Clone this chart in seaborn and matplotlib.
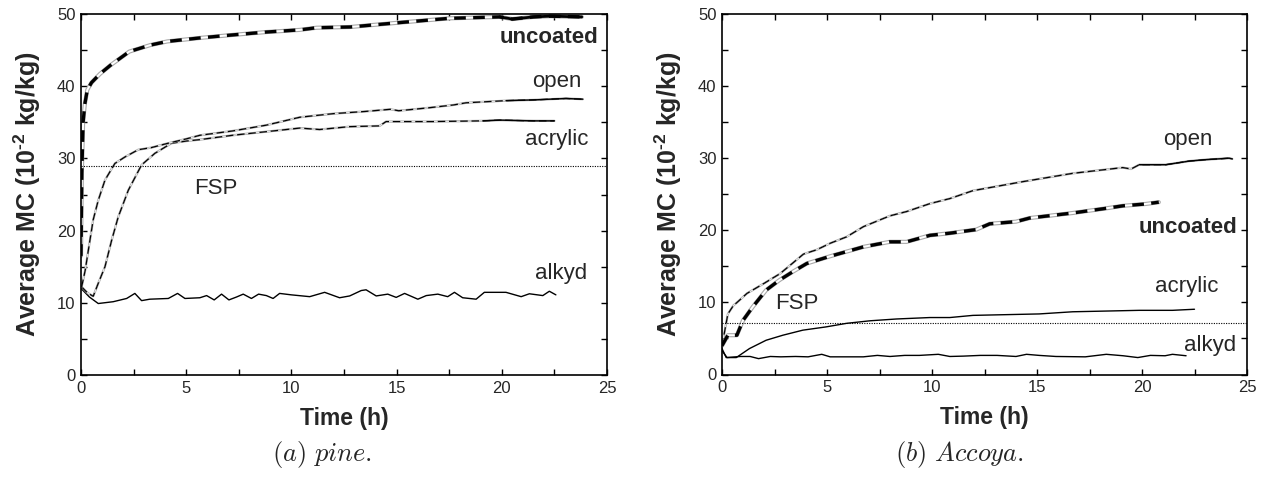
import numpy as np
import pandas as pd
import matplotlib
matplotlib.use("Agg")
import matplotlib.pyplot as plt
import seaborn as sns

# ---------------- data ----------------
# (a) pine
pine_unc_t = [0.0, 0.04, 0.1, 0.18, 0.3, 0.5, 0.9, 1.4, 2.3, 3.3, 4.1, 5.7, 7.2, 8.8, 10.4, 11.2, 12.8,
              15.1, 17.5, 19.9, 20.5, 21.5, 22.3, 23.8]
pine_unc_v = [16.5, 28, 35, 37.5, 39.5, 40.5, 41.7, 42.9, 44.8, 45.7, 46.2, 46.7, 47.1, 47.5, 47.8, 48.1, 48.2,
              48.8, 49.4, 49.6, 49.3, 49.6, 49.7, 49.6]

pine_open_t = [0.03, 0.2, 0.35, 0.58, 0.82, 1.14, 1.61, 2.09, 2.72, 3.35, 4.14, 5.0, 5.65, 7.2, 8.8, 10.4,
               12.0, 13.5, 14.7, 15.1, 16.5, 17.7, 18.3, 20.2, 21.5, 22.3, 23.05, 23.85]
pine_open_v = [12.2, 14.5, 17.3, 21.5, 24.2, 27.0, 29.3, 30.2, 31.2, 31.5, 32.1, 32.7, 33.2, 33.8, 34.6, 35.7,
               36.2, 36.5, 36.8, 36.6, 37.0, 37.4, 37.7, 38.0, 38.1, 38.2, 38.3, 38.2]

pine_acr_t = [0.03, 0.3, 0.58, 0.82, 1.14, 1.46, 1.77, 2.25, 2.88, 3.51, 4.3, 5.0, 5.65, 7.2, 8.8, 10.4,
              11.34, 12.77, 14.19, 14.5, 16.7, 19.1, 19.9, 21.5, 22.5]
pine_acr_v = [12.2, 11.4, 10.9, 12.7, 15.0, 18.7, 21.9, 25.6, 29.1, 30.7, 32.1, 32.4, 32.6, 33.2, 33.7, 34.2,
              34.0, 34.4, 34.5, 35.1, 35.1, 35.2, 35.3, 35.2, 35.2]

pine_alk_t = [0.0, 0.4, 0.82, 1.53, 2.17, 2.56, 2.88, 3.27, 4.15, 4.59, 4.94, 5.65, 5.97, 6.33, 6.68, 7.03,
              7.39, 7.71, 8.1, 8.44, 8.81, 9.13, 9.44, 10.0, 10.87, 11.58, 12.29, 12.77, 13.32, 13.55, 14.03,
              14.58, 14.98, 15.38, 16.01, 16.41, 16.96, 17.43, 17.75, 18.14, 18.78, 19.17, 20.2, 20.92, 21.31,
              21.95, 22.26, 22.57]
pine_alk_v = [12.0, 10.8, 9.9, 10.15, 10.6, 11.3, 10.3, 10.5, 10.6, 11.3, 10.6, 10.7, 11.0, 10.4, 11.2, 10.4,
              10.8, 11.2, 10.6, 11.2, 11.0, 10.6, 11.3, 11.1, 10.85, 11.45, 10.7, 10.95, 11.7, 11.8, 10.95,
              11.2, 10.75, 11.3, 10.5, 11.0, 11.2, 10.85, 11.45, 10.7, 10.5, 11.45, 11.45, 10.85, 11.25,
              11.0, 11.6, 11.1]

pine_fsp = 29.0

# (b) Accoya
acc_open_t = [0.0, 0.28, 0.55, 0.68, 1.19, 1.98, 2.77, 3.88, 4.51, 5.15, 5.94, 6.73, 7.99, 8.79, 9.9, 10.85,
              11.95, 14.33, 16.7, 19.08, 19.48, 19.87, 21.14, 22.25, 23.04, 24.15, 24.3]
acc_open_v = [4.0, 8.4, 9.6, 9.9, 11.25, 12.6, 14.0, 16.7, 17.3, 18.2, 19.1, 20.5, 22.0, 22.6, 23.7, 24.4,
              25.5, 26.75, 27.9, 28.7, 28.5, 29.1, 29.1, 29.6, 29.8, 30.0, 29.9]

acc_unc_t = [0.0, 0.28, 0.71, 1.0, 1.47, 2.1, 2.74, 3.37, 4.04, 5.15, 6.73, 7.99, 8.79, 9.9, 10.85, 12.11,
             12.75, 14.0, 14.65, 16.7, 18.3, 19.1, 20.17, 20.8]
acc_unc_v = [4.0, 5.45, 5.45, 7.5, 9.4, 11.7, 13.1, 14.25, 15.4, 16.4, 17.7, 18.4, 18.4, 19.3, 19.6, 20.1,
             20.9, 21.2, 21.7, 22.4, 23.05, 23.4, 23.65, 23.9]

acc_acr_t = [0.0, 0.2, 0.68, 1.31, 2.1, 2.9, 3.85, 4.95, 5.94, 7.05, 8.31, 9.9, 10.85, 11.95, 15.1, 16.7,
             18.3, 19.87, 21.45, 22.5]
acc_acr_v = [3.6, 2.35, 2.35, 3.6, 4.75, 5.45, 6.15, 6.6, 7.1, 7.45, 7.7, 7.9, 7.9, 8.2, 8.4, 8.7,
             8.8, 8.9, 8.9, 9.05]

acc_alk_t = [0.0, 0.24, 0.87, 1.34, 1.74, 2.3, 2.8, 3.5, 4.1, 4.75, 5.15, 6.0, 6.73, 7.4, 8.0, 8.7, 9.4,
             10.3, 10.85, 11.5, 12.3, 13.1, 14.0, 14.5, 15.1, 15.9, 17.3, 18.3, 19.1, 19.8, 20.4, 21.1,
             21.45, 22.1]
acc_alk_v = [3.3, 2.35, 2.5, 2.5, 2.2, 2.5, 2.45, 2.5, 2.45, 2.8, 2.45, 2.45, 2.45, 2.65, 2.5, 2.65, 2.65,
             2.8, 2.5, 2.55, 2.65, 2.65, 2.5, 2.8, 2.65, 2.5, 2.45, 2.8, 2.6, 2.35, 2.65, 2.6,
             2.8, 2.6]

acc_fsp = 7.1

x_ticks = [0, 5, 10, 15, 20, 25]
y_ticks = [0, 10, 20, 30, 40, 50]
x_label = "Time (h)"
y_label = "Average MC (10$^{\\mathbf{\u2010 2}}$ kg/kg)"
captions = [r"$\mathit{(a)\ pine.}$", r"$\mathit{(b)\ Accoya.}$"]

# ---------------- style ----------------
sns.set_theme(style="ticks")
plt.rcParams["font.family"] = ["Liberation Sans", "DejaVu Sans"]
plt.rcParams["mathtext.fontset"] = "custom"
plt.rcParams["mathtext.rm"] = "Liberation Sans"
plt.rcParams["mathtext.bf"] = "Liberation Sans:bold"
plt.rcParams["mathtext.it"] = "Liberation Sans:italic"

fig = plt.figure(figsize=(12.65, 4.82), dpi=100)
ax1 = fig.add_axes([81 / 1265, 1 - 375 / 482, 526 / 1265, 361 / 482])
ax2 = fig.add_axes([722 / 1265, 1 - 374.5 / 482, 525 / 1265, 360.5 / 482])


def draw(ax, t, v, kind, solid_from=None):
    df = pd.DataFrame({"t": t, "v": v})
    if kind == "plain":
        sns.lineplot(data=df, x="t", y="v", ax=ax, color="black", lw=1.0,
                     estimator=None, sort=False)
        return
    if kind == "thick":
        under_w, inner_w, dash_w, dash = 3.0, 1.4, 2.4, (3.5, 2.2)
    else:
        under_w, inner_w, dash_w, dash = 1.6, 0.5, 0.9, (6, 3)
    sns.lineplot(data=df, x="t", y="v", ax=ax, color="#a8a8a8", lw=under_w,
                 estimator=None, sort=False)
    sns.lineplot(data=df, x="t", y="v", ax=ax, color="white", lw=inner_w,
                 estimator=None, sort=False)
    ln = sns.lineplot(data=df, x="t", y="v", ax=ax, color="black", lw=dash_w,
                      estimator=None, sort=False)
    ln.lines[-1].set_dashes(dash)
    if solid_from is not None:
        sub = df[df["t"] >= solid_from]
        sns.lineplot(data=sub, x="t", y="v", ax=ax, color="black",
                     lw=(2.0 if kind == "thick" else 1.0), estimator=None, sort=False)


# panel a
draw(ax1, pine_alk_t, pine_alk_v, "plain")
draw(ax1, pine_acr_t, pine_acr_v, "thin", solid_from=17.5)
draw(ax1, pine_open_t, pine_open_v, "thin", solid_from=20.0)
draw(ax1, pine_unc_t, pine_unc_v, "thick", solid_from=19.8)
ax1.axhline(pine_fsp, color="black", lw=0.8, ls=(0, (1, 1.2)))

ax1.text(24.6, 46.8, "uncoated", fontsize=16, fontweight="bold", ha="right", va="center")
ax1.text(22.6, 40.7, "open", fontsize=16, ha="center", va="center")
ax1.text(22.6, 32.6, "acrylic", fontsize=16, ha="center", va="center")
ax1.text(6.4, 25.9, "FSP", fontsize=16, ha="center", va="center")
ax1.text(22.8, 14.1, "alkyd", fontsize=16, ha="center", va="center")

# panel b
draw(ax2, acc_alk_t, acc_alk_v, "plain")
draw(ax2, acc_acr_t, acc_acr_v, "plain")
draw(ax2, acc_open_t, acc_open_v, "thin", solid_from=19.6)
draw(ax2, acc_unc_t, acc_unc_v, "thick")
ax2.axhline(acc_fsp, color="black", lw=0.8, ls=(0, (1, 1.2)))

ax2.text(24.55, 20.4, "uncoated", fontsize=16, fontweight="bold", ha="right", va="center")
ax2.text(22.2, 32.6, "open", fontsize=16, ha="center", va="center")
ax2.text(22.15, 12.2, "acrylic", fontsize=16, ha="center", va="center")
ax2.text(23.26, 4.0, "alkyd", fontsize=16, ha="center", va="center")
ax2.text(3.55, 9.9, "FSP", fontsize=16, ha="center", va="center")

for ax in (ax1, ax2):
    ax.set_xlim(0, 25)
    ax.set_ylim(0, 50)
    ax.set_xticks(x_ticks)
    ax.set_yticks(y_ticks)
    ax.set_xticks(np.arange(0, 25.1, 2.5), minor=True)
    ax.set_yticks(np.arange(0, 50.1, 5), minor=True)
    ax.tick_params(which="both", direction="in", top=True, right=True, length=4.5,
                   width=1.0, color="black", labelsize=12, pad=4)
    for s in ax.spines.values():
        s.set_visible(True)
        s.set_linewidth(1.2)
        s.set_color("black")
    ax.set_xlabel(x_label, fontsize=16.5, fontweight="bold", labelpad=8)
    ax.set_ylabel(y_label, fontsize=18, fontweight="bold", labelpad=10)
    ax.set_facecolor("white")

fig.text(322 / 1265, 1 - 455 / 482, captions[0], fontsize=19, ha="center", va="center",
         math_fontfamily="cm")
fig.text(959 / 1265, 1 - 455 / 482, captions[1], fontsize=19, ha="center", va="center",
         math_fontfamily="cm")

fig.savefig("out.png", dpi=100, facecolor="white")
